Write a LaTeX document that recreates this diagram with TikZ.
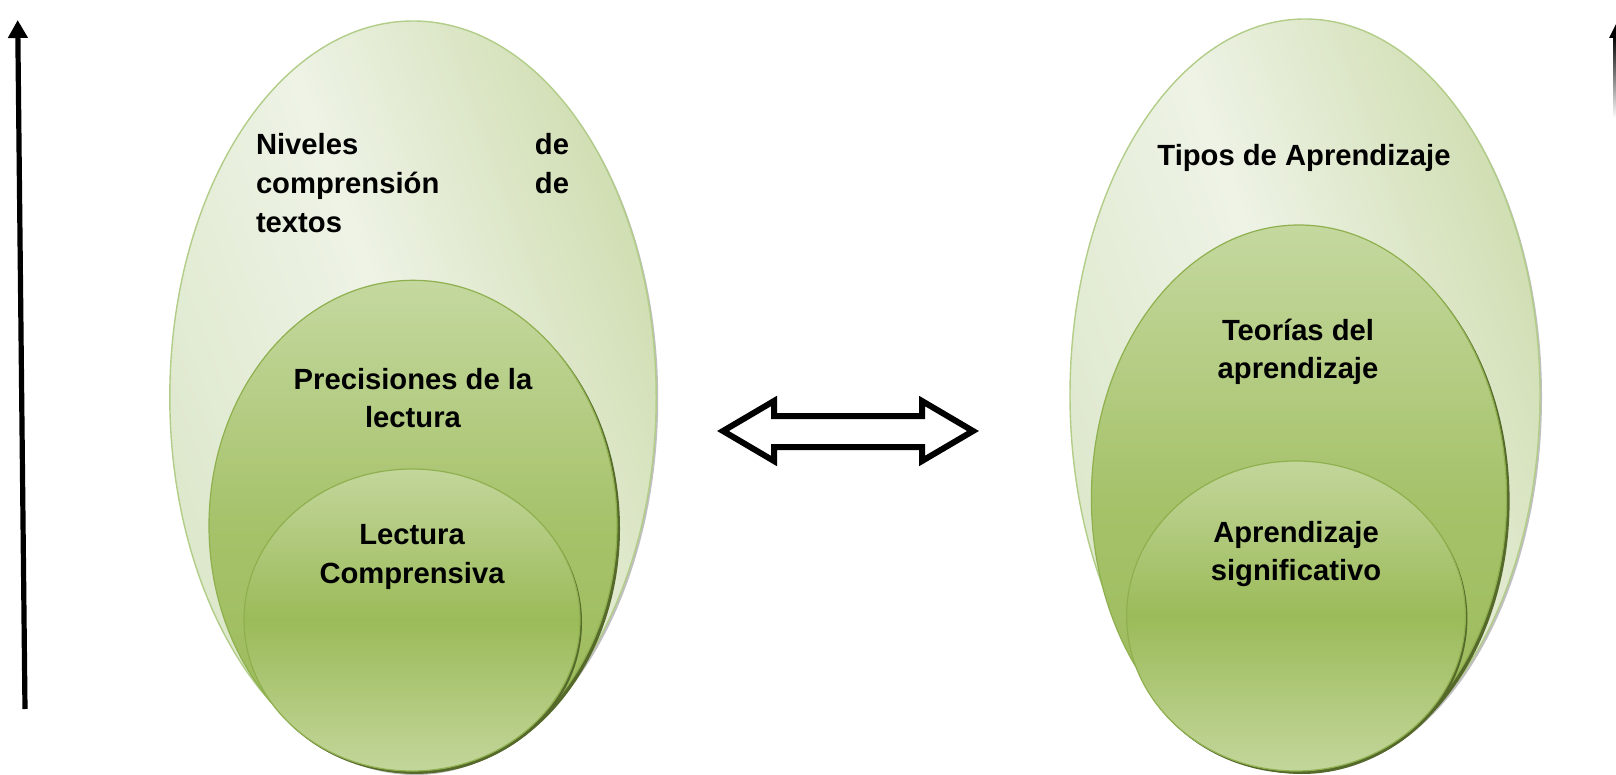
\documentclass[tikz,border=0pt]{standalone}
\usepackage{fontspec}
\setmainfont{Liberation Sans}
\usetikzlibrary{arrows.meta}
\definecolor{outL}{HTML}{DCE7CA}
\definecolor{outM}{HTML}{EEF3E6}
\definecolor{outR}{HTML}{CFDDB0}
\definecolor{outLine}{HTML}{B2CD88}
\definecolor{midTop}{HTML}{C4D89F}
\definecolor{midMid}{HTML}{A6C26A}
\definecolor{midBot}{HTML}{9BBB59}
\definecolor{midLine}{HTML}{8FB04E}
\definecolor{inTop}{HTML}{C3D69B}
\definecolor{inMid}{HTML}{9BBB59}
\definecolor{inBot}{HTML}{C3D69B}
\definecolor{rim}{HTML}{55692B}
\begin{document}
\begin{tikzpicture}[x=0.5pt,y=-0.5pt,
  lbl/.style={font=\bfseries\fontsize{14.6pt}{19.3pt}\selectfont, align=center, inner sep=0pt},
  outerell/.style={draw=outLine, line width=0.7pt, left color=outL, right color=outR, middle color=outM, shading angle=110},
  midell/.style={draw=midLine, line width=0.6pt, top color=midTop, bottom color=midBot, middle color=midMid},
  inell/.style={draw=midLine, line width=0.6pt, top color=inTop, bottom color=inBot, middle color=inMid},
  rimell/.style={fill=rim},
  greyrim/.style={fill=black!25},
  bigarrow/.style={line width=2.6pt, -{Triangle[length=9pt,width=9.5pt]}},
  dblarrow/.style={draw=black, line width=3pt, fill=white, miter limit=10}
]
\useasboundingbox (0,0) rectangle (1616,775);

% left vertical arrow
\coordinate (la0) at (25,709);
\coordinate (la1) at (17.7,20);
\draw[bigarrow] (la0) -- (la1);

% right partial arrow (cut at edge, fading)
\coordinate (ra0) at (1613.5,36);
\coordinate (ra1) at (1619.5,118);
\shade[top color=black, bottom color=white] (ra0) rectangle (ra1);
\coordinate (rh1) at (1609,38);
\coordinate (rh2) at (1618,20);
\coordinate (rh3) at (1627,38);
\fill (rh1) -- (rh2) -- (rh3) -- cycle;

% ---------- left group ----------
\fill[greyrim] (415,399) ellipse [x radius=121.6pt, y radius=188pt];
\path[outerell] (413,397) ellipse [x radius=121.6pt, y radius=188pt];
\fill[rimell] (416,528.5) ellipse [x radius=102pt, y radius=122.7pt];
\path[midell] (413,525.7) ellipse [x radius=102pt, y radius=122.7pt];
\fill[rimell] (414,622.5) ellipse [x radius=84pt, y radius=75.5pt];
\path[inell] (412,620) ellipse [x radius=84pt, y radius=75.5pt];

\node[lbl, align=left, text width=156.5pt] (niv) at (412.5,183)
  {Niveles\hfill de\\ comprensión\hfill de\\ textos};
\node[lbl] (prec) at (413,398) {Precisiones de la\\ lectura};
\node[lbl] (lect) at (412,557) {Lectura\\ Comprensiva};

% ---------- right group ----------
\fill[greyrim] (1307,397) ellipse [x radius=117.5pt, y radius=188pt];
\path[outerell] (1305,395) ellipse [x radius=117.5pt, y radius=188pt];
\fill[rimell] (1302,501) ellipse [x radius=103.8pt, y radius=136.5pt];
\path[midell] (1299,498) ellipse [x radius=103.8pt, y radius=136.5pt];
\fill[rimell] (1298,618.5) ellipse [x radius=84.7pt, y radius=77.5pt];
\path[inell] (1296,616) ellipse [x radius=84.7pt, y radius=77.5pt];

\node[lbl] (tipos) at (1304,158) {Tipos de Aprendizaje};
\node[lbl] (teor) at (1298,352) {Teorías del\\ aprendizaje};
\node[lbl] (sign) at (1296,554) {Aprendizaje\\ significativo};

% ---------- double arrow ----------
\coordinate (d1) at (723,431);
\coordinate (d2) at (774,401);
\coordinate (d3) at (774,416);
\coordinate (d4) at (922,416);
\coordinate (d5) at (922,401);
\coordinate (d6) at (973,431);
\coordinate (d7) at (922,461);
\coordinate (d8) at (922,447);
\coordinate (d9) at (774,447);
\coordinate (d10) at (774,461);
\draw[dblarrow] (d1) -- (d2) -- (d3) -- (d4) -- (d5) -- (d6) -- (d7) -- (d8) -- (d9) -- (d10) -- cycle;
\end{tikzpicture}
\end{document}
